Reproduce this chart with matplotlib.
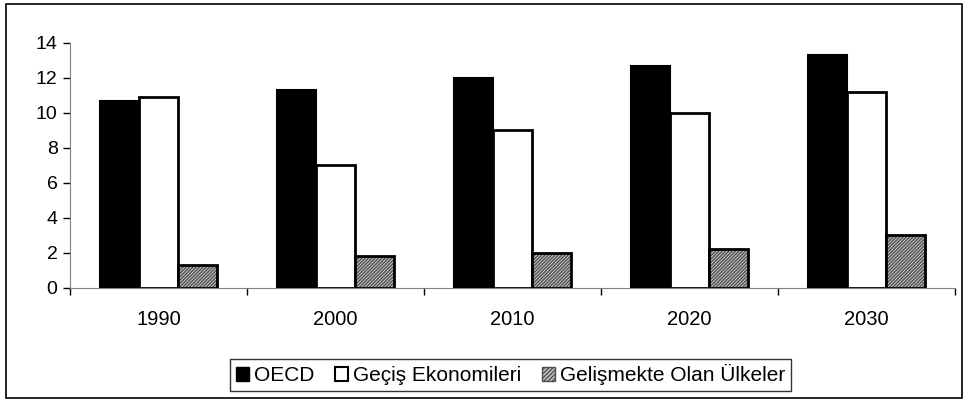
import numpy as np
from matplotlib import pyplot as plt
from matplotlib.patches import Rectangle, Patch

plt.rcParams['font.family'] = ['Liberation Sans', 'DejaVu Sans']

# data
years = ['1990', '2000', '2010', '2020', '2030']
oecd = [10.7, 11.3, 12.0, 12.7, 13.3]
gecis = [10.9, 7.0, 9.0, 10.0, 11.2]
gelismekte = [1.3, 1.8, 2.0, 2.2, 3.0]
labels = ['OECD', 'Geçiş Ekonomileri', 'Gelişmekte Olan Ülkeler']

fig = plt.figure(figsize=(9.67, 4.01), dpi=100)
ax = fig.add_axes([0.0724, 0.2818, 0.9152, 0.611])

x = np.arange(len(years))
w = 0.22

ax.bar(x - w, oecd, w, color='black', edgecolor='black', linewidth=1.5, zorder=3)
ax.bar(x, gecis, w, color='white', edgecolor='black', linewidth=2, zorder=3)
# hatched bars: gray dense hatch first, then a black outline on top
ax.bar(x + w, gelismekte, w, color='#c8c8c8', edgecolor='#505050', hatch='//////////', linewidth=0, zorder=3)
ax.bar(x + w, gelismekte, w, fill=False, edgecolor='black', linewidth=2, zorder=4)

ax.set_xlim(-0.5, len(years) - 0.5)
ax.set_ylim(0, 14)
ax.set_yticks(range(0, 15, 2))
ax.set_xticks(x)
ax.set_xticklabels(years)
ax.set_xticks(np.arange(-0.5, len(years)), minor=True)
ax.tick_params(axis='x', which='major', length=0, pad=16, labelsize=14.5)
ax.tick_params(axis='x', which='minor', length=5, width=1, direction='out')
ax.tick_params(axis='y', length=5, width=1, direction='out', labelsize=14, pad=4)

for s in ['top', 'right']:
    ax.spines[s].set_visible(False)
ax.spines['left'].set_color('#808080')
ax.spines['bottom'].set_color('#808080')

# legend
handles = [Patch(facecolor='black', edgecolor='black'),
           Patch(facecolor='white', edgecolor='black', linewidth=1.5),
           Patch(facecolor='#c8c8c8', edgecolor='#505050', hatch='////////')]
leg = fig.legend(handles, labels, loc='center', bbox_to_anchor=(0.528, 0.065), ncol=3,
                 fontsize=15, frameon=True, fancybox=False, edgecolor='black',
                 handlelength=0.62, handleheight=0.62, handletextpad=0.25, columnspacing=1.0,
                 borderpad=0.25, borderaxespad=0)
leg.get_frame().set_linewidth(1)

# outer border of the chart
fig.patches.append(Rectangle((0.006, 0.008), 0.989, 0.982, transform=fig.transFigure,
                             fill=False, edgecolor='black', linewidth=1.2))

fig.savefig('out.png', dpi=100)
